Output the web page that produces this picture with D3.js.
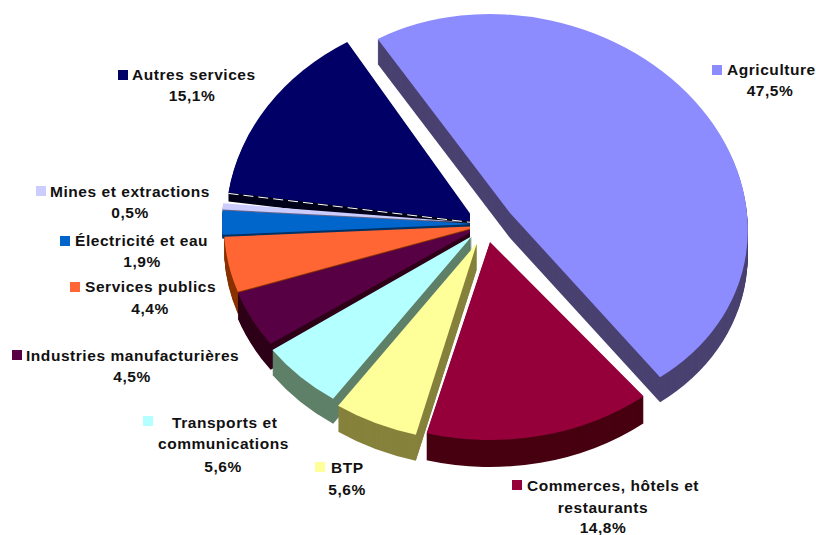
<!DOCTYPE html>
<html><head><meta charset="utf-8">
<script src="https://cdn.jsdelivr.net/npm/d3@7/dist/d3.min.js"></script>
<style>html,body{margin:0;padding:0;background:#fff}svg{display:block}
text{font-family:"Liberation Sans",Arial,sans-serif;font-weight:bold;font-size:15.5px;letter-spacing:.55px;fill:#111}</style>
</head><body><svg id="c" width="816" height="535"></svg>
<script>
const categories = ["Agriculture","Commerces, hôtels et restaurants","BTP","Transports et communications","Industries manufacturières","Services publics","Électricité et eau","Mines et extractions","Autres services"];
const values = [47.5,14.8,5.6,5.6,4.5,4.4,1.9,0.5,15.1];
const labelLines = [["Agriculture"],["Commerces, hôtels et","restaurants"],["BTP"],["Transports et","communications"],["Industries manufacturières"],["Services publics"],["Électricité et eau"],["Mines et extractions"],["Autres services"]];
const topColors = ["#8C8CFF","#95003A","#FFFF99","#B4FFFF","#580044","#FF6633","#0066CC","#CCCCFF","#000066"];
const sideColors = ["#4A4270","#470010","#86823C","#5F8068","#2E0018","#8A3300","#003366","#66668A","#00001A"];
// geometry of each exploded slice: centre, ellipse radii, skew
const geometry = [[510,213,237,199,.1],[490,242,245,198,0],[477,243,244,198,0],[472,236,244,198,0],[480,227,256,203,0],[480,226,256,203,0],[478,224,256,203,0],[478,223,256,203,0],[476,222,250,210,0]];
// perspective correction of start / end angle, in degrees
const angleTrim = [[1,4.5],[0,.5],[0,0],[0,0],[0,0],[0,0],[0,0],[0,0],[2.5,-1]];
// label anchors: swatch x,y; text start per line; centre x of the value; line baselines
const labelLayout = [
 {sw:[712,65],x:[727],b:[75],vx:770,vb:96},
 {sw:[512,480],x:[527,603],mid:[false,true],b:[491,513],vx:603,vb:533},
 {sw:[315,462],x:[331],b:[473],vx:347,vb:495},
 {sw:[143,416],x:[172,158],b:[428,449],vx:223,vb:472},
 {sw:[12,350],x:[26],b:[361],vx:132,vb:382},
 {sw:[70,282],x:[85],b:[292],vx:150,vb:314},
 {sw:[60,236],x:[75],b:[246],vx:142,vb:267},
 {sw:[36,186],x:[50],b:[197],vx:130,vb:218},
 {sw:[118,70],x:[132],b:[80],vx:192,vb:101}
];
const startDeg = -30;
const depths = [25,27,26,25,26,22,4,3,9];
const rad = Math.PI/180;
const svg = d3.select("#c");
svg.append("defs").append("clipPath").attr("id","lc").append("rect").attr("x",0).attr("y",0).attr("width",470).attr("height",535);
const pie = d3.pie().sort(null).startAngle(startDeg*rad).endAngle((startDeg+360)*rad)(values)
  .map((p,i)=>({...p,startAngle:p.startAngle+angleTrim[i][0]*rad,endAngle:p.endAngle+angleTrim[i][1]*rad}));
const arc = d3.arc().innerRadius(0).outerRadius(100);
const pct = d3.formatLocale({decimal:",",thousands:" ",grouping:[3],currency:["","€"]}).format(".1f");
const order = [8,7,6,5,4,3,2,1,0];
const pieG = svg.append("g");
order.forEach(i=>{
  const [cx,cy,rx,ry,k]=geometry[i];
  const m = dy=>`matrix(${rx/100},0,${k*ry/100},${ry/100},${cx},${cy+dy})`;
  const g = pieG.append("g");
  if(i>=4) g.attr("clip-path","url(#lc)");
  d3.range(depths[i],0,-1).forEach(d=>{
    g.append("path").attr("d",arc(pie[i])).attr("fill",sideColors[i]).attr("transform",m(d));
  });
  g.append("path").attr("d",arc(pie[i])).attr("fill",topColors[i]).attr("transform",m(0));
  if(i===8){ // white dashed highlight along the lower edge of the last slice
    const p = d3.pointRadial(pie[i].startAngle,100);
    g.append("line").attr("x1",p[0]).attr("y1",p[1]).attr("x2",0).attr("y2",0)
     .attr("transform",m(1)).attr("stroke","#fff").attr("vector-effect","non-scaling-stroke")
     .attr("stroke-width",1).attr("stroke-dasharray","10 5");
  }
});
const lab = svg.append("g");
categories.forEach((c,i)=>{
  const L=labelLayout[i];
  lab.append("rect").attr("x",L.sw[0]).attr("y",L.sw[1]).attr("width",10).attr("height",10).attr("fill",topColors[i]);
  labelLines[i].forEach((t,j)=>{
    lab.append("text").attr("x",L.x[j]).attr("y",L.b[j]).attr("text-anchor",L.mid&&L.mid[j]?"middle":"start").text(t);
  });
  lab.append("text").attr("x",L.vx).attr("y",L.vb).attr("text-anchor","middle").text(pct(values[i])+"%");
});
</script></body></html>
